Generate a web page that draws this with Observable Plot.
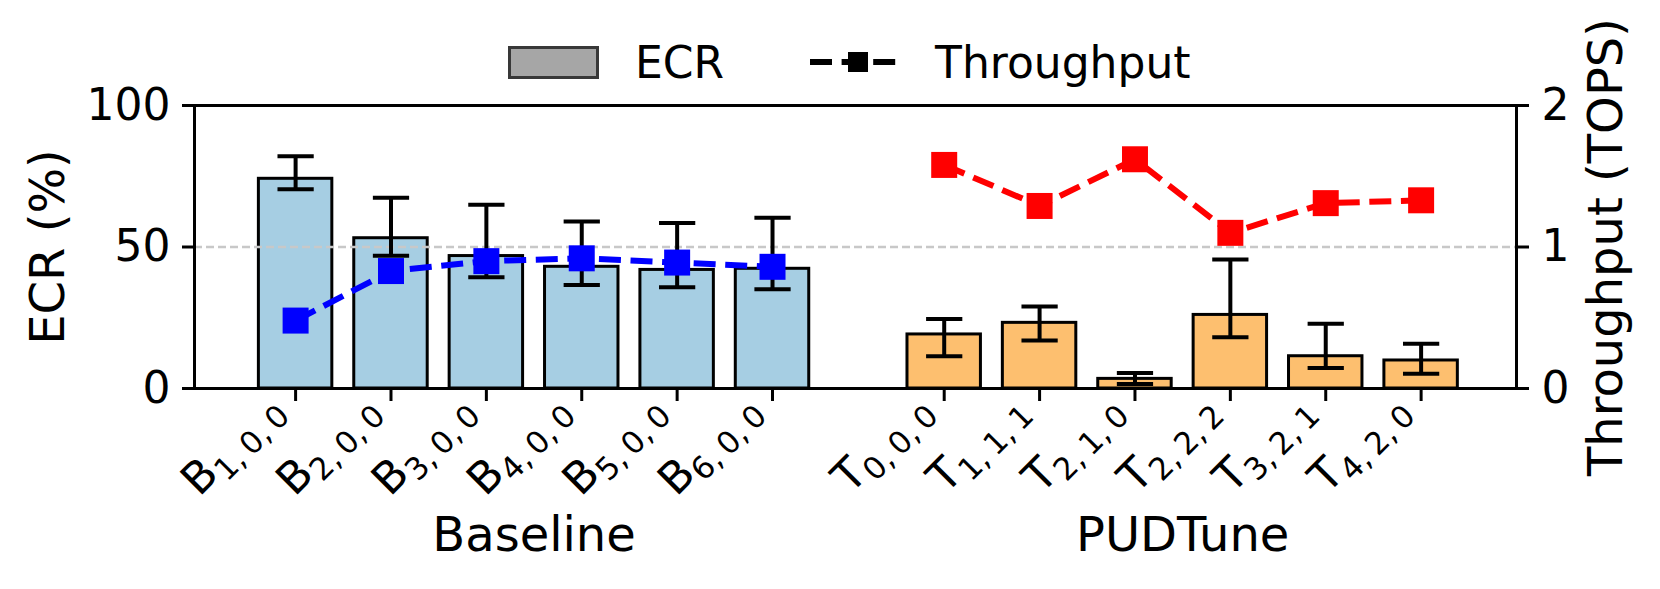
<!DOCTYPE html>
<html>
<head>
<meta charset="utf-8">
<script src="https://cdn.jsdelivr.net/npm/d3@7"></script>
<script src="https://cdn.jsdelivr.net/npm/@observablehq/plot@0.6"></script>
<style>
  html, body { margin: 0; padding: 0; background: #fff; }
  body { width: 1660px; height: 589px; overflow: hidden; font-family: "DejaVu Sans", sans-serif; }
  svg { display: block; }
  #legend { overflow: visible; position: relative; z-index: 2; }
</style>
</head>
<body>
<svg id="legend" width="1660" height="84" font-family="DejaVu Sans" font-size="44">
  <rect x="509.5" y="47.5" width="88" height="30" fill="#a6a6a6" stroke="#383838" stroke-width="3"></rect>
  <text x="635" y="78">ECR</text>
  <line x1="810" x2="900" y1="62" y2="62" stroke="#000" stroke-width="6" stroke-dasharray="22,9.6"></line>
  <rect x="848" y="52" width="20" height="20" fill="#000"></rect>
  <text x="935" y="78">Throughput</text>
</svg>
<div id="chart"></div>
<script>
// ---- data ----
const groupNames = ["Baseline", "PUDTune"];
const baselineSubs = ["1, 0, 0", "2, 0, 0", "3, 0, 0", "4, 0, 0", "5, 0, 0", "6, 0, 0"];
const baselineECR = [74.1, 53.1, 46.8, 43.0, 41.9, 42.3];
const baselineErrLow = [70.4, 46.9, 39.3, 36.6, 35.8, 35.1];
const baselineErrHigh = [82.1, 67.4, 64.9, 59.0, 58.5, 60.3];
const baselineThroughput = [0.48, 0.83, 0.90, 0.92, 0.89, 0.86];

const pudtuneSubs = ["0, 0, 0", "1, 1, 1", "2, 1, 0", "2, 2, 2", "3, 2, 1", "4, 2, 0"];
const pudtuneECR = [19.1, 23.2, 3.4, 26.0, 11.4, 9.9];
const pudtuneErrLow = [11.4, 17.0, 1.6, 18.1, 7.2, 5.2];
const pudtuneErrHigh = [24.6, 29.0, 5.5, 45.6, 22.9, 15.8];
const pudtuneThroughput = [1.58, 1.29, 1.62, 1.10, 1.31, 1.33];

const ecrTicks = [0, 50, 100];
const throughputTicks = [0, 1, 2];

// ---- layout / style ----
const groupStart = [0, 6.8];
const halfBar = 0.385, halfCap = 0.19;
const tputToEcr = 50; // 2 TOPS on the right axis == 100 % on the left axis

const groups = [
  {name: groupNames[0], letter: "B", subs: baselineSubs, ecr: baselineECR, lo: baselineErrLow, hi: baselineErrHigh, tput: baselineThroughput, fill: "#a6cee3", line: "#0000ff"},
  {name: groupNames[1], letter: "T", subs: pudtuneSubs, ecr: pudtuneECR, lo: pudtuneErrLow, hi: pudtuneErrHigh, tput: pudtuneThroughput, fill: "#fdbf6f", line: "#ff0000"}
];
const rows = groups.flatMap((g, gi) => g.subs.map((s, i) => ({
  group: g.name, pos: groupStart[gi] + i, label: g.letter + "|" + s.replace(/, /g, ",\u2009"),
  ecr: g.ecr[i], lo: g.lo[i], hi: g.hi[i], tput: g.tput[i] * tputToEcr,
  fill: g.fill, line: g.line
})));
const groupRows = groups.map(g => ({name: g.name, center: d3.mean(rows.filter(r => r.group === g.name), r => r.pos)}));

const chart = Plot.plot({
  width: 1660, height: 505,
  marginTop: 21, marginBottom: 201, marginLeft: 194, marginRight: 144,
  style: {fontFamily: "DejaVu Sans", fontSize: "44px", background: "transparent", color: "black", overflow: "visible"},
  x: {domain: [-1.06, 12.8]},
  y: {domain: [0, 100]},
  color: {type: "identity"},
  marks: [
    Plot.rectY(rows, {x1: d => d.pos - halfBar, x2: d => d.pos + halfBar, y1: 0, y2: "ecr", fill: "fill", stroke: "black", strokeWidth: 3}),
    Plot.ruleY([50], {stroke: "#c8c8c8", strokeWidth: 2.5, strokeDasharray: "8,4"}),
    Plot.ruleX(rows, {x: "pos", y1: "lo", y2: "hi", stroke: "black", strokeWidth: 4}),
    Plot.link(rows, {x1: d => d.pos - halfCap, x2: d => d.pos + halfCap, y1: "lo", y2: "lo", stroke: "black", strokeWidth: 4}),
    Plot.link(rows, {x1: d => d.pos - halfCap, x2: d => d.pos + halfCap, y1: "hi", y2: "hi", stroke: "black", strokeWidth: 4}),
    Plot.line(rows, {x: "pos", y: "tput", z: "group", stroke: "line", strokeWidth: 6, strokeDasharray: "22,9.6", strokeLinecap: "butt"}),
    Plot.dot(rows, {x: "pos", y: "tput", symbol: "square", r: 26 / Math.sqrt(Math.PI), fill: "line"}),
    Plot.frame({stroke: "black", strokeWidth: 3}),
    Plot.axisY(ecrTicks, {anchor: "left", tickSize: 12, tickPadding: 12, strokeWidth: 3, fontSize: 44, label: null}),
    Plot.axisY(throughputTicks.map(t => t * tputToEcr), {anchor: "right", tickSize: 12, tickPadding: 13, strokeWidth: 3, fontSize: 44, tickFormat: d => String(d / tputToEcr), label: null}),
    Plot.axisX(rows.map(d => d.pos), {anchor: "bottom", tickSize: 13, strokeWidth: 3, tickFormat: () => "", label: null}),
    Plot.text(rows, {x: "pos", frameAnchor: "bottom", text: "label", rotate: -45, textAnchor: "end", lineAnchor: "bottom", dx: -10.5, dy: 23, fontSize: 44}),
    Plot.text(groupRows, {x: "center", frameAnchor: "bottom", text: "name", textAnchor: "middle", lineAnchor: "middle", dy: 147, fontSize: 48}),
    Plot.text(["ECR (%)"], {text: d => d, frameAnchor: "left", dx: -146, rotate: -90, textAnchor: "middle", lineAnchor: "middle", fontSize: 48}),
    Plot.text(["Throughput (TOPS)"], {text: d => d, frameAnchor: "right", dx: 90, rotate: -90, textAnchor: "middle", lineAnchor: "middle", fontSize: 48})
  ]
});
document.getElementById("chart").appendChild(chart);

// subscripted tick labels (B_{1,0,0}, T_{0,0,0}, ...)
d3.select(chart).selectAll("text").each(function() {
  const t = this.textContent;
  if (!t.includes("|")) return;
  const [main, sub] = t.split("|");
  const sel = d3.select(this);
  sel.text(null).attr("dy", "0");
  sel.append("tspan").text(main);
  sel.append("tspan").attr("font-size", "31px").attr("dy", "9").text(sub);
});
</script>
</body>
</html>
